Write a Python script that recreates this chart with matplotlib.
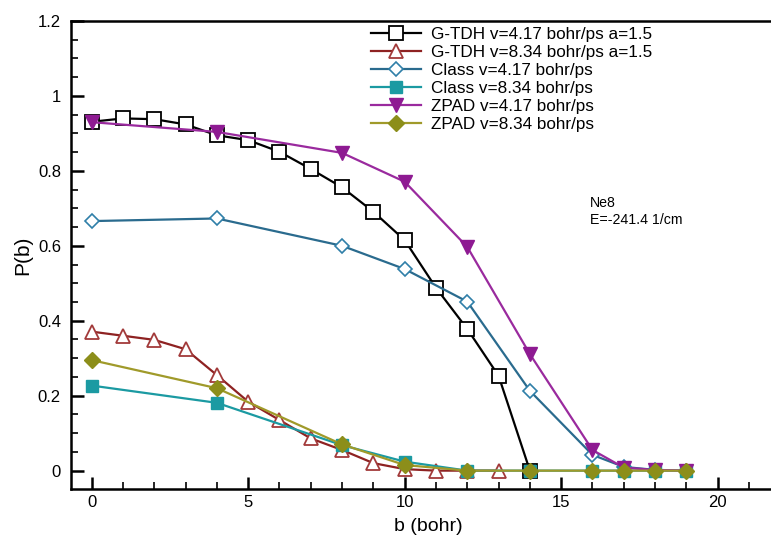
import matplotlib
matplotlib.use("Agg")
import matplotlib.pyplot as plt
from matplotlib.ticker import MultipleLocator, FixedFormatter, FixedLocator

plt.rcParams["font.family"] = ["Liberation Sans", "DejaVu Sans"]

# G-TDH v=4.17
gtdh_slow_b = [0, 1, 2, 3, 4, 5, 6, 7, 8, 9, 10, 11, 12, 13, 14]
gtdh_slow_p = [0.931, 0.940, 0.938, 0.924, 0.895, 0.882, 0.851, 0.805, 0.756,
               0.691, 0.615, 0.488, 0.378, 0.253, 0.0]
# G-TDH v=8.34
gtdh_fast_b = [0, 1, 2, 3, 4, 5, 6, 7, 8, 9, 10, 11, 12, 13]
gtdh_fast_p = [0.371, 0.360, 0.349, 0.324, 0.255, 0.184, 0.135, 0.086, 0.055,
               0.020, 0.004, 0.0, 0.0, 0.0]
# Class
class_b = [0, 4, 8, 10, 12, 14, 16, 17, 18, 19]
class_slow_p = [0.666, 0.673, 0.600, 0.538, 0.451, 0.213, 0.042, 0.010, 0.002, 0.0]
class_fast_p = [0.227, 0.181, 0.068, 0.024, 0.0, 0.0, 0.0, 0.0, 0.0, 0.0]
# ZPAD
zpad_b = [0, 4, 8, 10, 12, 14, 16, 17, 18, 19]
zpad_slow_p = [0.930, 0.904, 0.848, 0.771, 0.597, 0.311, 0.055, 0.008, 0.002, 0.0]
zpad_fast_p = [0.295, 0.220, 0.070, 0.015, 0.0, 0.0, 0.0, 0.0, 0.0, 0.0]

labels = [
    "G-TDH v=4.17 bohr/ps a=1.5",
    "G-TDH v=8.34 bohr/ps a=1.5",
    "Class v=4.17 bohr/ps",
    "Class v=8.34 bohr/ps",
    "ZPAD v=4.17 bohr/ps",
    "ZPAD v=8.34 bohr/ps",
]

W, H = 771, 542
fig = plt.figure(figsize=(W / 100, H / 100), dpi=100)
ax_l, ax_r, ax_t, ax_b = 70.7, 785, 21, 489
ax = fig.add_axes([ax_l / W, 1 - ax_b / H, (ax_r - ax_l) / W, (ax_b - ax_t) / H])

lw = 1.6
ax.plot(gtdh_slow_b, gtdh_slow_p, color="black", lw=lw, marker="s", ms=9.5,
        mfc="white", mec="black", mew=1.3, label=labels[0])
ax.plot(gtdh_fast_b, gtdh_fast_p, color="#8e2222", lw=lw, marker="^", ms=10,
        mfc="white", mec="#a23a3a", mew=1.3, label=labels[1])
ax.plot(class_b, class_slow_p, color="#2a6b8e", lw=lw, marker="D", ms=7,
        mfc="white", mec="#2f7fa8", mew=1.2, label=labels[2])
ax.plot(class_b, class_fast_p, color="#1b9aa2", lw=lw, marker="s", ms=9,
        mfc="#1b9aa2", mec="#1b9aa2", label=labels[3])
ax.plot(zpad_b, zpad_slow_p, color="#9a2a9e", lw=lw, marker="v", ms=10,
        mfc="#8e1a92", mec="#8e1a92", label=labels[4])
ax.plot(zpad_b, zpad_fast_p, color="#a09a2a", lw=lw, marker="D", ms=8,
        mfc="#8c8e1a", mec="#8c8e1a", label=labels[5])

ax.set_xlim(-0.67, 22.15)
ax.set_ylim(-0.049, 1.2)

ax.xaxis.set_major_locator(MultipleLocator(5))
ax.xaxis.set_minor_locator(MultipleLocator(1))
ax.yaxis.set_major_locator(FixedLocator([0, 0.2, 0.4, 0.6, 0.8, 1.0, 1.2]))
ax.yaxis.set_major_formatter(FixedFormatter(["0", "0.2", "0.4", "0.6", "0.8", "1", "1.2"]))
ax.yaxis.set_minor_locator(MultipleLocator(0.05))

ax.tick_params(which="major", direction="in", length=9, width=1.8, labelsize=12, pad=7)
ax.tick_params(which="minor", direction="in", length=5, width=1.2)
ax.tick_params(axis="x", which="major", pad=4)

for side in ["left", "bottom", "top"]:
    ax.spines[side].set_linewidth(1.8)
ax.spines["right"].set_visible(False)

ax.set_xlabel("b (bohr)", fontsize=14, labelpad=6)
ax.set_ylabel("P(b)", fontsize=15, labelpad=4)

ax.text(590 / W, 1 - 203 / H, "Ne8", transform=fig.transFigure, fontsize=10.2,
        va="center", ha="left")
ax.text(590 / W, 1 - 220 / H, "E=-241.4 1/cm", transform=fig.transFigure, fontsize=10.2,
        va="center", ha="left")

leg = ax.legend(loc="upper left",
                bbox_to_anchor=((359 - ax_l) / (ax_r - ax_l), 1.0 + 6 / (ax_b - ax_t)),
                frameon=False, fontsize=12.3, handlelength=2.9, handletextpad=0.6,
                labelspacing=0.18, borderpad=0.2)

fig.savefig("out.png", dpi=100)
